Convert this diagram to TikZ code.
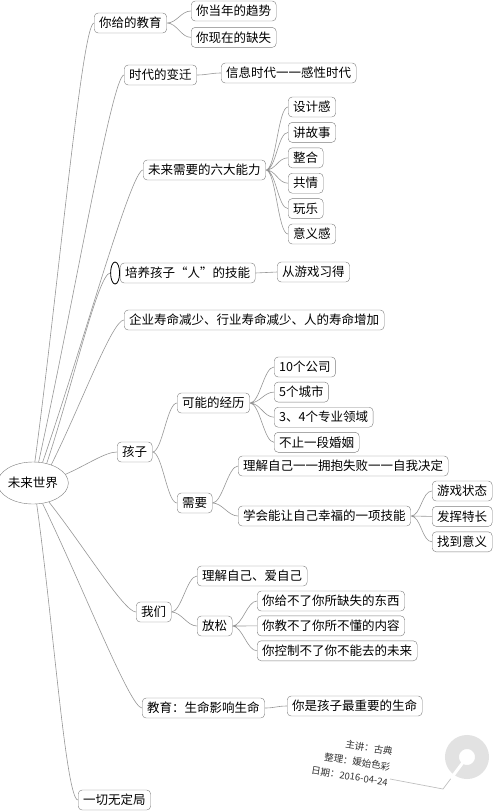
\documentclass[tikz,border=0pt]{standalone}
\usepackage{fontspec}
\setmainfont{Noto Sans CJK SC}
\usepackage{tikz}
\usetikzlibrary{positioning,calc,shapes.geometric}
\definecolor{boxgray}{RGB}{125,125,125}
\definecolor{linegray}{RGB}{150,150,150}
\definecolor{logogray}{RGB}{226,226,226}
\newcommand{\mapfont}{\fontsize{12.5pt}{15pt}\selectfont}
\newcommand{\creditfont}{\fontsize{9.5pt}{15.5pt}\selectfont}
\tikzset{
  topic/.style={draw=boxgray, rounded corners=4pt, fill=white, font=\mapfont, minimum height=20pt, inner xsep=5pt, inner ysep=1pt, anchor=west},
  link/.style={draw=linegray, line width=0.6pt},
  branch/.style={to path={.. controls ($(\tikztostart)!0.4!(\tikztotarget)$) and ($(\tikztotarget)+(-12,0)$) .. (\tikztotarget)}},
  twig/.style={to path={.. controls +(10,0) and +(-10,0) .. (\tikztotarget)}},
}

\begin{document}
\begin{tikzpicture}[x=1pt, y=-1pt]
\useasboundingbox (0,0) rectangle (496,812);
\node[draw=boxgray, ellipse, fill=white, font=\mapfont, minimum width=66pt, minimum height=42pt, inner sep=0pt] (root) at (33,483) {未来世界};

% 你给的教育
\node[topic] (edu) at (94,23) {你给的教育};
\node[topic] (trend) at (191,11) {你当年的趋势};
\node[topic, below right=6pt and 0pt of trend.south west] (lack) {你现在的缺失};

% 时代的变迁
\node[topic] (era) at (124,75) {时代的变迁};
\node[topic] (info) at (221,73) {信息时代一一感性时代};

% 六大能力
\node[topic] (six) at (143,170) {未来需要的六大能力};
\node[topic] (design) at (288,107) {设计感};
\node[topic, below right=5pt and 0pt of design.south west] (story) {讲故事};
\node[topic, below right=5pt and 0pt of story.south west] (whole) {整合};
\node[topic, below right=5pt and 0pt of whole.south west] (empathy) {共情};
\node[topic, below right=5pt and 0pt of empathy.south west] (play) {玩乐};
\node[topic, below right=5pt and 0pt of play.south west] (meaning) {意义感};

% 培养孩子
\node[topic] (skill) at (120,273) {培养孩子“人”的技能};
\node[draw, ellipse, line width=0.8pt, minimum width=9pt, minimum height=22pt, inner sep=0pt, left=0pt of skill] (mark) {};
\node[topic] (game) at (277,272) {从游戏习得};

\node[topic] (life) at (124,320) {企业寿命减少、行业寿命减少、人的寿命增加};

% 孩子
\node[topic] (kid) at (117,452) {孩子};
\node[topic] (path) at (177,403) {可能的经历};
\node[topic] (firm) at (274,367) {10个公司};
\node[topic, below right=4.7pt and 0pt of firm.south west] (city) {5个城市};
\node[topic, below right=4.7pt and 0pt of city.south west] (field) {3、4个专业领域};
\node[topic, below right=4.7pt and 0pt of field.south west] (wed) {不止一段婚姻};
\node[topic] (need) at (177,503) {需要};
\node[topic] (self) at (238,466) {理解自己一一拥抱失败一一自我决定};
\node[topic] (happy) at (238,516) {学会能让自己幸福的一项技能};
\node[topic] (state) at (432,491) {游戏状态};
\node[topic, below right=5pt and 0pt of state.south west] (talent) {发挥特长};
\node[topic, below right=5pt and 0pt of talent.south west] (find) {找到意义};

% 我们
\node[topic] (we) at (136,612) {我们};
\node[topic] (love) at (197,576) {理解自己、爱自己};
\node[topic] (relax) at (197,626) {放松};
\node[topic] (give) at (257,601) {你给不了你所缺失的东西};
\node[topic, below right=4.5pt and 0pt of give.south west] (teach) {你教不了你所不懂的内容};
\node[topic, below right=4.5pt and 0pt of teach.south west] (ctrl) {你控制不了你不能去的未来};

% 教育
\node[topic] (teachlife) at (142,708) {教育：生命影响生命};
\node[topic] (most) at (287,706) {你是孩子最重要的生命};

\node[topic] (open) at (78,800) {一切无定局};

% root branches
\draw[link] (root.85) to[branch] (edu.west);
\draw[link] (root.75) to[branch] (era.west);
\draw[link] (root.65) to[branch] (six.west);
\draw[link] (root.55) to[branch] (mark.west);
\draw[link] (root.45) to[branch] (life.west);
\draw[link] (root.15) to[branch] (kid.west);
\draw[link] (root.-50) to[branch] (we.west);
\draw[link] (root.-65) to[branch] (teachlife.west);
\draw[link] (root.-80) to[branch] (open.west);

% sub branches
\draw[link] (edu.east) to[twig] (trend.west) (edu.east) to[twig] (lack.west);
\draw[link] (era.east) to[twig] (info.west);
\draw[link] (six.east) to[twig] (design.west) (six.east) to[twig] (story.west)
  (six.east) to[twig] (whole.west) (six.east) to[twig] (empathy.west)
  (six.east) to[twig] (play.west) (six.east) to[twig] (meaning.west);
\draw[link] (skill.east) to[twig] (game.west);
\draw[link] (kid.east) to[twig] (path.west) (kid.east) to[twig] (need.west);
\draw[link] (path.east) to[twig] (firm.west) (path.east) to[twig] (city.west)
  (path.east) to[twig] (field.west) (path.east) to[twig] (wed.west);
\draw[link] (need.east) to[twig] (self.west) (need.east) to[twig] (happy.west);
\draw[link] (happy.east) to[twig] (state.west) (happy.east) to[twig] (talent.west)
  (happy.east) to[twig] (find.west);
\draw[link] (we.east) to[twig] (love.west) (we.east) to[twig] (relax.west);
\draw[link] (relax.east) to[twig] (give.west) (relax.east) to[twig] (teach.west)
  (relax.east) to[twig] (ctrl.west);
\draw[link] (teachlife.east) to[twig] (most.west);

% credits and logo
\node[rotate=-9, align=right, font=\creditfont, text=black!80] (credit) at (352,761) {主讲：古典\\整理：媛始色彩\\日期：2016-04-24};
\coordinate (logo) at (467,757);
\coordinate (tail) at (443,789);
\draw[logogray, line width=14pt] (logo) circle (15);
\draw[white, line width=3pt] (logo) -- ($(logo)!0.75!(tail)$);
\draw[logogray!85!black, line width=0.7pt] ($(logo)!0.68!(tail)$) -- (tail) -- (390,779);
\end{tikzpicture}
\end{document}
